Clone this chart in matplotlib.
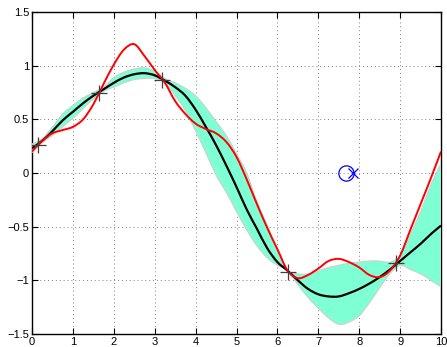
import numpy as np
import matplotlib
matplotlib.use("Agg")
import matplotlib.pyplot as plt
from matplotlib.path import Path
from matplotlib.patches import PathPatch

# -----------------------------
# Values
# -----------------------------
x_grid = np.linspace(0, 10, 41)

mean_curve = [
    0.23, 0.30, 0.39, 0.49, 0.57, 0.65, 0.72, 0.78, 0.84, 0.89,
    0.92, 0.93, 0.91, 0.86, 0.80, 0.72, 0.59, 0.43, 0.26, 0.07,
    -0.13, -0.34, -0.52, -0.70, -0.83, -0.91, -1.00, -1.08, -1.13, -1.15,
    -1.15, -1.12, -1.08, -1.03, -0.97, -0.90, -0.82, -0.74, -0.66, -0.57,
    -0.49,
]

interp_curve = [
    0.20, 0.30, 0.37, 0.40, 0.43, 0.50, 0.64, 0.83, 1.01, 1.15,
    1.20, 1.09, 0.96, 0.84, 0.67, 0.55, 0.46, 0.41, 0.37, 0.29,
    0.15, -0.06, -0.29, -0.51, -0.71, -0.91, -0.98, -0.95, -0.89, -0.82,
    -0.80, -0.83, -0.88, -0.95, -0.97, -0.91, -0.77, -0.53, -0.29, -0.05,
    0.20,
]

band_upper = [
    0.27, 0.32, 0.43, 0.55, 0.63, 0.70, 0.75, 0.80, 0.89, 0.94,
    0.97, 0.98, 0.95, 0.88, 0.84, 0.79, 0.72, 0.61, 0.48, 0.35,
    0.18, 0.00, -0.27, -0.49, -0.73, -0.91, -0.94, -0.94, -0.91, -0.88,
    -0.86, -0.84, -0.83, -0.82, -0.82, -0.83, -0.77, -0.57, -0.36, -0.11,
    0.09,
]

band_lower = [
    0.19, 0.28, 0.35, 0.43, 0.51, 0.60, 0.69, 0.76, 0.80, 0.84,
    0.87, 0.88, 0.88, 0.84, 0.72, 0.58, 0.39, 0.19, -0.02, -0.18,
    -0.36, -0.53, -0.68, -0.79, -0.86, -0.91, -1.04, -1.16, -1.26, -1.35,
    -1.41, -1.39, -1.33, -1.21, -1.07, -0.94, -0.86, -0.90, -0.94, -1.00,
    -1.06,
]

# observed points
obs_x = [0.15, 1.64, 3.19, 6.27, 8.90]
obs_y = [0.26, 0.75, 0.87, -0.92, -0.84]

# query point (circle) and its estimate (cross)
query_x = [7.67]
query_y = [0.0]
est_x = [7.86]
est_y = [0.0]

x_ticks = list(range(0, 11))
y_ticks = [-1.5, -1, -0.5, 0, 0.5, 1, 1.5]
y_tick_labels = ["\u22121.5", "\u22121", "\u22120.5", "0", "0.5", "1", "1.5"]


def smooth_path(xs, ys, close_with=None):
    """Catmull-Rom curve through the points, as cubic Bezier path segments."""
    pts = np.column_stack([xs, ys])
    padded = np.vstack([pts[0], pts, pts[-1]])
    verts = [pts[0]]
    codes = [Path.MOVETO]
    for i in range(len(pts) - 1):
        p0, p1, p2, p3 = padded[i], padded[i + 1], padded[i + 2], padded[i + 3]
        verts += [p1 + (p2 - p0) / 6, p2 - (p3 - p1) / 6, p2]
        codes += [Path.CURVE4] * 3
    if close_with is not None:
        back = close_with
        verts.append(back.vertices[0])
        codes.append(Path.LINETO)
        verts += list(back.vertices[1:])
        codes += list(back.codes[1:])
        verts.append(pts[0])
        codes.append(Path.CLOSEPOLY)
    return Path(np.array(verts), codes)


# -----------------------------
# Plot
# -----------------------------
plt.rcParams["font.family"] = ["Liberation Sans", "DejaVu Sans"]

fig = plt.figure(figsize=(4.47, 3.47), dpi=100)
ax = fig.add_axes([32 / 447, 13 / 347, 409 / 447, 322 / 347])

# band: upper edge left->right, then lower edge right->left
lower_back = smooth_path(x_grid[::-1], band_lower[::-1])
band_path = smooth_path(x_grid, band_upper, close_with=lower_back)
ax.add_patch(PathPatch(
    band_path,
    facecolor="#7fffd4",
    edgecolor="#cfcfcf",
    linewidth=0.8,
    zorder=3,
))

ax.add_patch(PathPatch(
    smooth_path(x_grid, mean_curve),
    facecolor="none", edgecolor="black", linewidth=1.6, zorder=4,
))
ax.add_patch(PathPatch(
    smooth_path(x_grid, interp_curve),
    facecolor="none", edgecolor="red", linewidth=1.4, zorder=5,
))

ax.plot(
    obs_x, obs_y,
    linestyle="none", marker="+", markersize=12,
    markeredgewidth=0.9, color="#404040", zorder=6,
)

ax.plot(
    query_x, query_y,
    linestyle="none", marker="o", markersize=11,
    markerfacecolor="none", markeredgecolor="blue",
    markeredgewidth=0.9, zorder=6,
)
ax.plot(
    est_x, est_y,
    linestyle="none", marker="x", markersize=7,
    color="blue", markeredgewidth=0.9, zorder=6,
)

ax.set_xlim(0, 10)
ax.set_ylim(-1.5, 1.5)
ax.set_xticks(x_ticks)
ax.set_yticks(y_ticks)
ax.set_yticklabels(y_tick_labels)

ax.grid(True, color="#808080", linestyle=(0, (1, 3)), linewidth=0.7, zorder=1)
ax.set_axisbelow(True)

ax.tick_params(
    direction="in", length=4, width=0.8,
    top=True, right=True, labelsize=8, pad=2,
)
for spine in ax.spines.values():
    spine.set_linewidth(1.0)

fig.savefig("out.png", dpi=100)
